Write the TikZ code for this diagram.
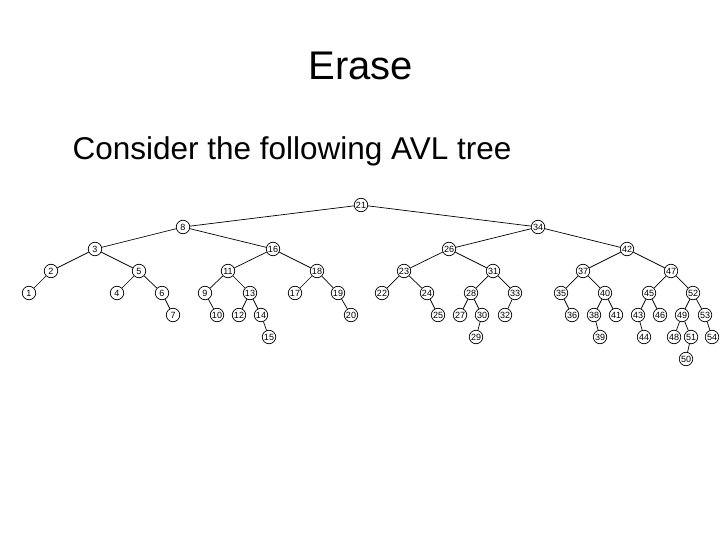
\documentclass[tikz,border=0pt]{standalone}
\usepackage{fontspec}
\setmainfont{Liberation Sans}
\usepackage{tikz}
\usetikzlibrary{positioning}
\tikzset{vertex/.style={circle, draw, line width=0.7pt, inner sep=0pt, minimum size=13.5pt,
    font=\fontsize{9}{9}\selectfont}}
\tikzset{edge/.style={line width=0.7pt}}

\begin{document}
\begin{tikzpicture}[x=1pt, y=-1pt]
  \useasboundingbox (0,0) rectangle (720,540);
  % title and text
  \node[font=\fontsize{40}{40}\selectfont] (title) at (361,66) {Erase};
  \node[font=\fontsize{31.5}{32}\selectfont, anchor=base west] (intro) at (69,160) {Consider the following AVL tree};
  % the tree, level by level
  \node[vertex] (n21) at (361,205) {21};
  \node[vertex] (n8) at (183,227) {8};
  \node[vertex] (n34) at (538,227) {34};
  \node[vertex] (n3) at (95,249) {3};
  \node[vertex] (n16) at (273,249) {16};
  \node[vertex] (n26) at (449,249) {26};
  \node[vertex] (n42) at (627,249) {42};
  \node[vertex] (n2) at (51,271) {2};
  \node[vertex] (n5) at (139,271) {5};
  \node[vertex] (n11) at (228,271) {11};
  \node[vertex] (n18) at (317,271) {18};
  \node[vertex] (n23) at (404,271) {23};
  \node[vertex] (n31) at (493,271) {31};
  \node[vertex] (n37) at (583,271) {37};
  \node[vertex] (n47) at (671,271) {47};
  \node[vertex] (n1) at (29,293) {1};
  \node[vertex] (n4) at (117,293) {4};
  \node[vertex] (n6) at (162,293) {6};
  \node[vertex] (n9) at (205,293) {9};
  \node[vertex] (n13) at (250,293) {13};
  \node[vertex] (n17) at (295,293) {17};
  \node[vertex] (n19) at (338,293) {19};
  \node[vertex] (n22) at (382,293) {22};
  \node[vertex] (n24) at (427,293) {24};
  \node[vertex] (n28) at (471,293) {28};
  \node[vertex] (n33) at (515,293) {33};
  \node[vertex] (n35) at (561,293) {35};
  \node[vertex] (n40) at (605,293) {40};
  \node[vertex] (n45) at (649,293) {45};
  \node[vertex] (n52) at (693,293) {52};
  \node[vertex] (n7) at (173,315) {7};
  \node[vertex] (n10) at (217,315) {10};
  \node[vertex] (n12) at (239,315) {12};
  \node[vertex] (n14) at (261,315) {14};
  \node[vertex] (n20) at (351,315) {20};
  \node[vertex] (n25) at (438,315) {25};
  \node[vertex] (n27) at (460,315) {27};
  \node[vertex] (n30) at (482,315) {30};
  \node[vertex] (n32) at (505,315) {32};
  \node[vertex] (n36) at (572,315) {36};
  \node[vertex] (n38) at (594,315) {38};
  \node[vertex] (n41) at (616,315) {41};
  \node[vertex] (n43) at (638,315) {43};
  \node[vertex] (n46) at (660,315) {46};
  \node[vertex] (n49) at (682,315) {49};
  \node[vertex] (n53) at (705,315) {53};
  \node[vertex] (n15) at (269,337) {15};
  \node[vertex] (n29) at (476,337) {29};
  \node[vertex] (n39) at (600,337) {39};
  \node[vertex] (n44) at (644,337) {44};
  \node[vertex] (n48) at (674,337) {48};
  \node[vertex] (n51) at (691,337) {51};
  \node[vertex] (n54) at (712,337) {54};
  \node[vertex] (n50) at (686,359) {50};
  % edges
  \foreach \p/\c in {21/8, 21/34, 8/3, 8/16, 34/26, 34/42,
      3/2, 3/5, 16/11, 16/18, 26/23, 26/31, 42/37, 42/47,
      2/1, 5/4, 5/6, 11/9, 11/13, 18/17, 18/19, 23/22, 23/24,
      31/28, 31/33, 37/35, 37/40, 47/45, 47/52,
      6/7, 9/10, 13/12, 13/14, 19/20, 24/25, 28/27, 28/30, 33/32,
      35/36, 40/38, 40/41, 45/43, 45/46, 52/49, 52/53,
      14/15, 30/29, 38/39, 43/44, 49/48, 49/51, 53/54, 51/50}
    \draw[edge] (n\p) -- (n\c);
\end{tikzpicture}
\end{document}
